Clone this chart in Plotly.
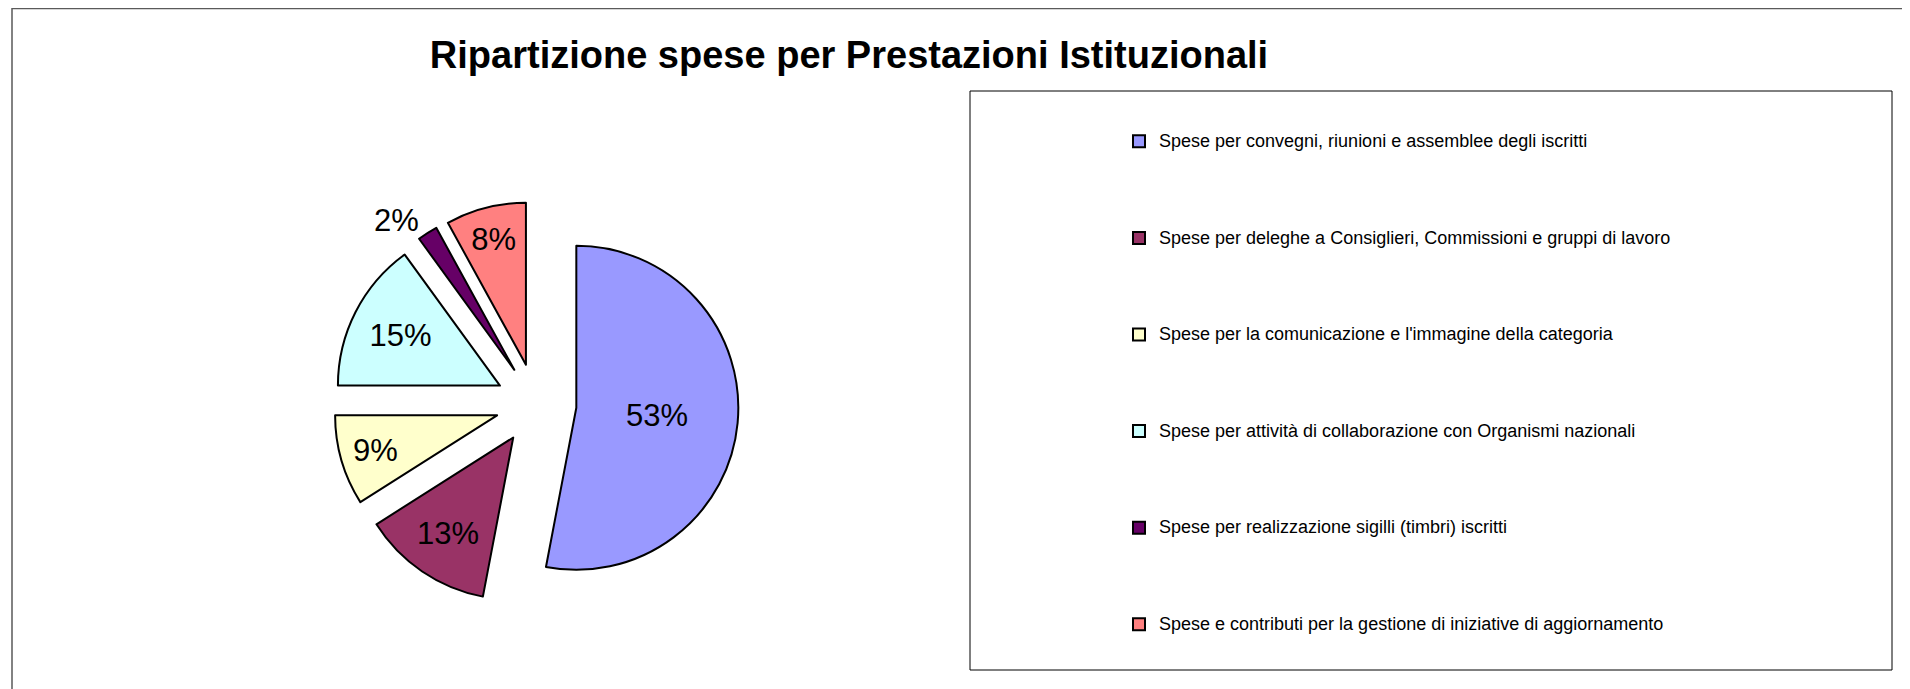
import plotly.graph_objects as go

categories = [
    "Spese per convegni, riunioni e assemblee degli iscritti",
    "Spese per deleghe a Consiglieri, Commissioni e gruppi di lavoro",
    "Spese per la comunicazione e l'immagine della categoria",
    "Spese per attività di collaborazione con Organismi nazionali",
    "Spese per realizzazione sigilli (timbri) iscritti",
    "Spese e contributi per la gestione di iniziative di aggiornamento",
]
values = [53, 13, 9, 15, 2, 8]
colors = ["#9999FF", "#993366", "#FFFFCC", "#CCFFFF", "#660066", "#FF8080"]
text_positions = ["inside", "inside", "inside", "inside", "outside", "inside"]

# page body has an 8px margin; figure sized to fit the window
OFF = 8
W, H = 1910 - OFF, 689 - OFF
FONT = "Arial, 'Liberation Sans', sans-serif"


def px(x):
    return (x - OFF) / W


def py(y):
    return 1 - (y - OFF) / H


# pie geometry (screen pixels)
cx, cy, half = 536, 404, 202.5

legend_labels = ["<br><br><span style='font-size:18px'>%s</span><br><br>" % c for c in categories]

fig = go.Figure(go.Pie(
    labels=legend_labels,
    values=values,
    sort=False,
    direction="clockwise",
    rotation=0,
    pull=[0.25] * len(values),
    marker=dict(colors=colors, line=dict(color="black", width=2)),
    textinfo="percent",
    texttemplate="%{percent:.0%}",
    textposition=text_positions,
    insidetextorientation="horizontal",
    textfont=dict(family=FONT, size=31, color="black"),
    domain=dict(x=[px(cx - half), px(cx + half)],
                y=[py(cy + half), py(cy - half)]),
    hoverinfo="label+value",
))

fig.update_layout(
    width=W, height=H,
    margin=dict(l=0, r=0, t=0, b=0),
    paper_bgcolor="white",
    plot_bgcolor="white",
    font=dict(family=FONT, color="black"),
    title=dict(text="<b>Ripartizione spese per Prestazioni Istituzionali</b>",
               x=px(849), xanchor="center", y=py(55), yanchor="middle",
               font=dict(family=FONT, size=38, color="black")),
    showlegend=True,
    legend=dict(x=px(1119), xanchor="left", y=py(88), yanchor="top",
                font=dict(family=FONT, size=14.4, color="black"),
                bgcolor="rgba(0,0,0,0)", borderwidth=0, valign="middle",
                itemsizing="constant"),
    shapes=[
        # outer chart frame (top and left edges visible)
        dict(type="rect", xref="paper", yref="paper",
             x0=px(12), x1=1.01, y0=-0.01, y1=py(8.5),
             line=dict(color="#5a5a5a", width=1.5), fillcolor="rgba(0,0,0,0)", layer="below"),
        # legend frame
        dict(type="rect", xref="paper", yref="paper",
             x0=px(970), x1=px(1892), y0=py(670), y1=py(91),
             line=dict(color="black", width=1), fillcolor="rgba(0,0,0,0)", layer="below"),
    ],
)

fig.write_html("out.html")
